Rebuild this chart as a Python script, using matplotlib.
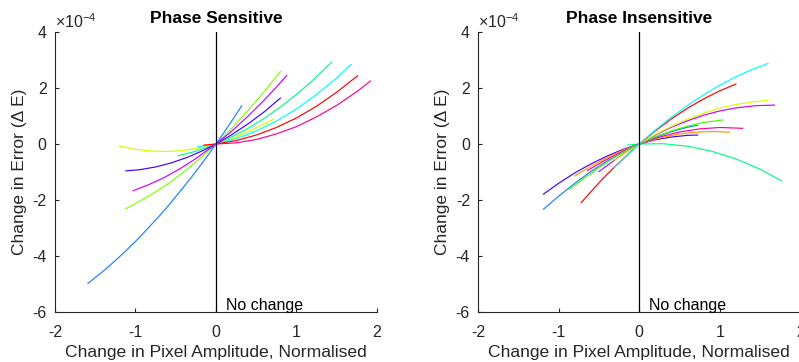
"""
Change in error vs change in pixel amplitude, phase sensitive / insensitive.
"""

import matplotlib
matplotlib.use("Agg")
import matplotlib.pyplot as plt

# ---- data (error values in units of 1e-4) ----
# Phase sensitive
sens_blue_x = [-1.59, -1.5, -1.4, -1.3, -1.2, -1.1, -1.0, -0.9, -0.8, -0.7,
               -0.6, -0.5, -0.4, -0.3, -0.2, -0.1, 0.0, 0.1, 0.2, 0.32]
sens_blue_y = [-4.98, -4.77, -4.54, -4.29, -4.03, -3.76, -3.48, -3.18, -2.87,
               -2.56, -2.23, -1.88, -1.53, -1.17, -0.79, -0.40, 0.0, 0.41,
               0.84, 1.36]
sens_lime_x = [-1.12, -1.0, -0.8, -0.6, -0.4, -0.2, 0.0, 0.2, 0.4, 0.6, 0.8]
sens_lime_y = [-2.31, -2.13, -1.80, -1.43, -1.00, -0.52, 0.0, 0.57, 1.20,
               1.87, 2.59]
sens_magenta_x = [-1.03, -0.85, -0.65, -0.45, -0.25, 0.0, 0.2, 0.4, 0.6,
                  0.75, 0.88]
sens_magenta_y = [-1.67, -1.47, -1.21, -0.89, -0.52, 0.0, 0.47, 1.00, 1.57,
                  2.03, 2.45]
sens_violet_x = [-1.12, -0.95, -0.75, -0.55, -0.35, -0.15, 0.0, 0.2, 0.4,
                 0.6, 0.8]
sens_violet_y = [-0.96, -0.92, -0.82, -0.67, -0.47, -0.22, 0.0, 0.34, 0.72,
                 1.15, 1.64]
sens_spring_x = [-0.47, -0.25, 0.0, 0.2, 0.4, 0.6, 0.8, 1.0, 1.2, 1.44]
sens_spring_y = [-0.42, -0.26, 0.0, 0.26, 0.56, 0.92, 1.32, 1.77, 2.27, 2.93]
sens_cyan_x = [-0.23, 0.0, 0.25, 0.5, 0.75, 1.0, 1.25, 1.5, 1.68]
sens_cyan_y = [-0.10, 0.0, 0.19, 0.46, 0.82, 1.25, 1.77, 2.36, 2.84]
sens_red_x = [-0.15, 0.0, 0.25, 0.5, 0.75, 1.0, 1.25, 1.5, 1.76]
sens_red_y = [-0.04, 0.0, 0.12, 0.32, 0.59, 0.93, 1.35, 1.85, 2.44]
sens_pink_x = [0.0, 0.25, 0.5, 0.75, 1.0, 1.25, 1.5, 1.75, 1.92]
sens_pink_y = [0.0, 0.04, 0.16, 0.36, 0.62, 0.97, 1.38, 1.87, 2.25]
sens_yellow_x = [-1.2, -1.0, -0.8, -0.6, -0.4, -0.2, 0.0, 0.2, 0.45, 0.72]
sens_yellow_y = [-0.07, -0.19, -0.25, -0.27, -0.23, -0.14, 0.0, 0.19, 0.50,
                 0.90]

# Phase insensitive
ins_cyan_x = [-0.31, -0.15, 0.0, 0.2, 0.4, 0.6, 0.8, 1.0, 1.2, 1.4, 1.6]
ins_cyan_y = [-0.85, -0.40, 0.0, 0.50, 0.96, 1.38, 1.76, 2.10, 2.40, 2.66,
              2.88]
ins_red_x = [-0.72, -0.6, -0.45, -0.3, -0.15, 0.0, 0.2, 0.4, 0.6, 0.8, 1.0,
             1.2]
ins_red_y = [-2.09, -1.70, -1.23, -0.80, -0.39, 0.0, 0.47, 0.90, 1.28, 1.61,
             1.90, 2.14]
ins_yellow_x = [-0.3, -0.15, 0.0, 0.2, 0.4, 0.6, 0.8, 1.0, 1.2, 1.4, 1.6]
ins_yellow_y = [-0.58, -0.28, 0.0, 0.34, 0.63, 0.89, 1.10, 1.28, 1.41, 1.50,
                1.56]
ins_magenta_x = [-0.5, -0.25, 0.0, 0.2, 0.4, 0.6, 0.8, 1.0, 1.2, 1.45, 1.68]
ins_magenta_y = [-0.98, -0.46, 0.0, 0.32, 0.60, 0.83, 1.03, 1.18, 1.29, 1.37,
                 1.39]
ins_green_x = [-0.87, -0.7, -0.5, -0.3, -0.15, 0.0, 0.2, 0.4, 0.6, 0.8, 1.04]
ins_green_y = [-1.63, -1.25, -0.84, -0.47, -0.22, 0.0, 0.26, 0.47, 0.64,
               0.77, 0.86]
ins_blue_x = [-1.19, -1.0, -0.8, -0.6, -0.4, -0.2, 0.0, 0.2, 0.4, 0.6, 0.725]
ins_blue_y = [-2.33, -1.86, -1.40, -0.98, -0.61, -0.29, 0.0, 0.24, 0.44,
              0.60, 0.67]
ins_pink_x = [-0.645, -0.45, -0.25, 0.0, 0.25, 0.5, 0.75, 1.0, 1.285]
ins_pink_y = [-0.95, -0.62, -0.32, 0.0, 0.25, 0.43, 0.54, 0.59, 0.56]
ins_orange_x = [-0.8, -0.6, -0.4, -0.2, 0.0, 0.25, 0.5, 0.75, 0.95, 1.12]
ins_orange_y = [-1.14, -0.79, -0.48, -0.22, 0.0, 0.21, 0.36, 0.43, 0.445,
                0.42]
ins_violet_x = [-1.19, -1.0, -0.8, -0.6, -0.4, -0.2, 0.0, 0.2, 0.4, 0.6,
                0.725]
ins_violet_y = [-1.79, -1.40, -1.03, -0.71, -0.43, -0.19, 0.0, 0.15, 0.25,
                0.31, 0.32]
ins_spring_x = [-0.15, 0.0, 0.3, 0.6, 0.9, 1.2, 1.5, 1.77]
ins_spring_y = [-0.04, 0.0, 0.01, -0.08, -0.26, -0.53, -0.90, -1.32]

x_ticks = [-2, -1, 0, 1, 2]
y_ticks = [-6, -4, -2, 0, 2, 4]

plt.rcParams["font.family"] = ["Liberation Sans", "DejaVu Sans"]
plt.rcParams["axes.unicode_minus"] = False

AX_COLOR = "#262626"

sens_curves = [
    (sens_yellow_x, sens_yellow_y, "#d4ff00"),
    (sens_spring_x, sens_spring_y, "#00ff80"),
    (sens_cyan_x, sens_cyan_y, "#00ffff"),
    (sens_red_x, sens_red_y, "#ff0000"),
    (sens_pink_x, sens_pink_y, "#ff0090"),
    (sens_violet_x, sens_violet_y, "#4400ff"),
    (sens_lime_x, sens_lime_y, "#80ff00"),
    (sens_magenta_x, sens_magenta_y, "#cc00ff"),
    (sens_blue_x, sens_blue_y, "#1a80ff"),
]

ins_curves = [
    (ins_spring_x, ins_spring_y, "#00ff80"),
    (ins_violet_x, ins_violet_y, "#4400ff"),
    (ins_orange_x, ins_orange_y, "#ff9900"),
    (ins_pink_x, ins_pink_y, "#ff0090"),
    (ins_blue_x, ins_blue_y, "#1a80ff"),
    (ins_green_x, ins_green_y, "#40ff00"),
    (ins_magenta_x, ins_magenta_y, "#cc00ff"),
    (ins_yellow_x, ins_yellow_y, "#d4ff00"),
    (ins_red_x, ins_red_y, "#ff0000"),
    (ins_cyan_x, ins_cyan_y, "#00ffff"),
]


def setup_axes(ax, title):
    ax.set_xlim(-2, 2)
    ax.set_ylim(-6, 4)
    ax.set_xticks(x_ticks)
    ax.set_yticks(y_ticks)
    ax.spines["top"].set_visible(False)
    ax.spines["right"].set_visible(False)
    for s in ("left", "bottom"):
        ax.spines[s].set_color(AX_COLOR)
        ax.spines[s].set_linewidth(0.8)
    ax.tick_params(direction="in", length=3, width=0.8, colors=AX_COLOR,
                   labelsize=11.5)
    ax.tick_params(axis="x", pad=9)
    ax.tick_params(axis="y", pad=6)
    ax.set_title(title, fontsize=12.5, fontweight="bold", pad=6.5)
    ax.set_xlabel("Change in Pixel Amplitude, Normalised", fontsize=12.6,
                  color=AX_COLOR, labelpad=4)
    ax.set_ylabel("Change in Error (Δ E)", fontsize=12.5, color=AX_COLOR,
                  labelpad=4)
    ax.text(0.0, 1.005, r"×10$^{\mathregular{-4}}$", transform=ax.transAxes,
            fontsize=11.5, color=AX_COLOR, ha="left", va="bottom")
    ax.axvline(0, color="black", lw=0.9)
    ax.text(0.12, -5.93, "No change", fontsize=11.5, color="black",
            va="baseline", ha="left")


fig = plt.figure(figsize=(7.99, 3.62), dpi=100)
ax1 = fig.add_axes([0.0688, 0.1381, 0.403, 0.7735])
ax2 = fig.add_axes([0.5986, 0.1381, 0.403, 0.7735])

for x, y, c in sens_curves:
    ax1.plot(x, y, color=c, lw=0.85)
for x, y, c in ins_curves:
    ax2.plot(x, y, color=c, lw=0.85)

setup_axes(ax1, "Phase Sensitive")
setup_axes(ax2, "Phase Insensitive")

fig.savefig("out.png", dpi=100)
